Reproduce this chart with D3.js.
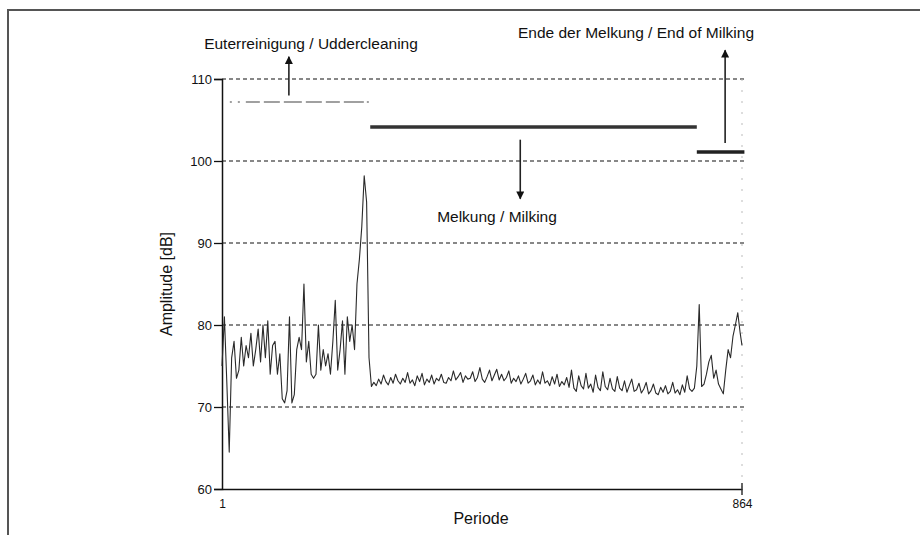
<!DOCTYPE html>
<html><head><meta charset="utf-8">
<script src="https://cdn.jsdelivr.net/npm/d3@7"></script>
<style>body{margin:0;background:#fff}svg{display:block}text{font-family:"Liberation Sans",Arial,sans-serif;fill:#111}</style>
</head><body>
<script>
// ---- data ----
const yTicks = [60, 70, 80, 90, 100, 110];
const xTickLabels = [1, 864];
const periodStep = 4; // one sample read every 4 periods
const amplitude = [
 75.0,81.0,73.0,64.5,76.0,78.0,73.5,74.5,78.5,75.0,
 77.5,76.0,79.0,75.0,77.0,79.5,75.5,80.0,76.0,80.5,
 74.0,77.5,78.0,74.0,76.5,71.0,70.5,72.0,81.0,70.5,
 71.5,77.0,78.5,77.0,85.0,75.5,78.0,74.0,73.5,74.0,
 80.0,74.5,77.0,75.0,76.5,74.0,78.0,83.0,74.5,77.0,
 80.5,74.0,81.0,78.0,80.0,77.0,85.0,88.0,92.0,98.2,
 95.0,76.0,72.5,73.0,72.6,73.4,72.8,73.9,73.1,72.7,
 73.6,72.9,74.0,73.2,72.8,73.5,73.0,74.2,72.9,73.3,
 72.6,73.8,73.1,74.1,72.7,73.4,73.0,73.9,72.8,73.5,
 73.2,74.0,73.0,72.9,73.6,73.2,74.4,73.3,73.7,74.2,
 73.0,73.8,73.4,73.5,74.3,73.1,73.6,74.8,73.4,73.0,
 73.7,74.5,73.2,73.9,74.6,73.3,74.0,73.2,73.6,74.4,
 72.9,73.5,73.1,73.8,72.8,73.4,74.1,72.9,73.2,73.9,
 72.7,73.3,72.8,74.3,72.9,73.2,72.6,73.7,72.8,74.0,
 72.5,73.1,72.7,73.6,72.4,74.5,72.3,71.9,73.8,72.6,
 72.2,74.1,72.3,72.8,71.8,73.9,72.4,72.0,74.3,72.5,
 72.1,73.5,72.2,71.9,73.7,72.3,72.0,73.2,71.8,72.6,
 73.4,71.9,72.1,72.9,71.7,72.2,73.0,71.6,72.0,72.8,
 71.7,71.5,72.4,71.8,72.6,71.6,71.9,73.0,71.7,72.1,
 71.5,72.7,71.8,73.8,72.2,71.9,72.3,75.0,82.5,72.5,
 72.8,74.0,75.5,76.3,73.5,74.5,72.8,72.2,71.6,74.5,
 77.0,76.0,78.6,80.0,81.5,79.0,77.5
];
// process phases: [label, start period, end period, level dB]
const phaseNames = ["Euterreinigung / Uddercleaning", "Melkung / Milking", "Ende der Melkung / End of Milking"];
const phaseStart = [14, 247, 789];
const phaseEnd = [245, 789, 868];
const phaseLevel = [107.2, 104.15, 101.1];
// annotation arrows: x period, from dB, to dB
const arrowX = [112, 496, 836];
const arrowFrom = [108.0, 102.6, 102.2];
const arrowTo = [112.7, 95.4, 113.5];

// ---- drawing ----
const W = 920, H = 535;
const svg = d3.select("body").append("svg").attr("width", W).attr("height", H);
const x = d3.scaleLinear().domain([1, 864]).range([222, 742]);
const y = d3.scaleLinear().domain([60, 110]).range([489, 79]);
const FONT = "Liberation Sans, Arial, sans-serif";

// frame
svg.append("path").attr("d", `M8,${H} L8,10 L${W},10`).attr("fill", "none").attr("stroke", "#555").attr("stroke-width", 2);

// gridlines
svg.append("g").selectAll("line").data(yTicks.filter(d => d > 60)).join("line")
  .attr("x1", x(1)).attr("x2", x(864) + 3).attr("y1", d => y(d)).attr("y2", d => y(d))
  .attr("stroke", "#111").attr("stroke-width", 1.2).attr("stroke-dasharray", "4,3");

// right faint dotted line
svg.append("line").attr("x1", x(864)).attr("x2", x(864)).attr("y1", y(110)).attr("y2", y(60))
  .attr("stroke", "#bbb").attr("stroke-width", 1).attr("stroke-dasharray", "2,9");

// y axis
const yAxis = d3.axisLeft(y).tickValues(yTicks).tickSize(8).tickPadding(2).tickFormat(d3.format("d"));
const gy = svg.append("g").attr("transform", `translate(${x(1)},0)`).call(yAxis);
gy.select(".domain").attr("stroke", "#111").attr("stroke-width", 1.5);
gy.selectAll(".tick line").attr("stroke", "#111").attr("stroke-width", 1.3);
gy.selectAll(".tick text").attr("font-size", 13).attr("font-family", FONT).attr("fill", "#111");

// x axis
const xAxis = d3.axisBottom(x).tickValues(xTickLabels).tickSize(0).tickPadding(10).tickFormat(d3.format("d"));
const gx = svg.append("g").attr("transform", `translate(0,${y(60)})`).call(xAxis);
gx.select(".domain").attr("stroke", "#111").attr("stroke-width", 1.5);
gx.selectAll(".tick text").attr("font-size", 12).attr("font-family", FONT).attr("fill", "#111");
svg.append("line").attr("x1", x(864)).attr("x2", x(864)).attr("y1", y(60) - 6).attr("y2", y(60) + 6)
  .attr("stroke", "#333").attr("stroke-width", 1.5);

// axis titles
svg.append("text").attr("x", 481).attr("y", 524).attr("text-anchor", "middle").attr("font-size", 16).text("Periode");
svg.append("text").attr("transform", `translate(172,${y(85)}) rotate(-90)`).attr("text-anchor", "middle").attr("font-size", 16).text("Amplitude [dB]");

// signal
const line = d3.line().x((d, i) => x(Math.min(1 + i * periodStep, 864))).y(d => y(d));
svg.append("path").datum(amplitude).attr("d", line).attr("fill", "none").attr("stroke", "#2a2a2a").attr("stroke-width", 1.1).attr("stroke-linejoin", "round");

// phase bars
const phaseStyle = [
  {stroke: "#a0a0a0", width: 2, dash: "2,6,2,6,14,4,16,4,18,4,16,4,14,4,20,3"},
  {stroke: "#333", width: 3.5, dash: null},
  {stroke: "#222", width: 3.5, dash: null}
];
phaseStart.forEach((s, i) => {
  svg.append("line").attr("x1", x(s)).attr("x2", x(phaseEnd[i])).attr("y1", y(phaseLevel[i])).attr("y2", y(phaseLevel[i]))
    .attr("stroke", phaseStyle[i].stroke).attr("stroke-width", phaseStyle[i].width)
    .attr("stroke-dasharray", phaseStyle[i].dash);
});

// arrows
svg.append("defs").append("marker").attr("id", "ah").attr("viewBox", "0 0 10 10").attr("refX", 9).attr("refY", 5)
  .attr("markerWidth", 10).attr("markerHeight", 8).attr("markerUnits", "userSpaceOnUse").attr("orient", "auto")
  .append("path").attr("d", "M0,0 L10,5 L0,10 Z").attr("fill", "#111");
arrowX.forEach((ax, i) => {
  svg.append("line").attr("x1", x(ax)).attr("x2", x(ax)).attr("y1", y(arrowFrom[i])).attr("y2", y(arrowTo[i]))
    .attr("stroke", "#222").attr("stroke-width", 1.6).attr("marker-end", "url(#ah)");
});

// phase labels
const labelPos = [[311, 49, "middle"], [497, 222, "middle"], [636, 38, "middle"]];
phaseNames.forEach((n, i) => {
  svg.append("text").attr("x", labelPos[i][0]).attr("y", labelPos[i][1]).attr("text-anchor", labelPos[i][2])
    .attr("font-size", 15.5).text(n);
});
</script>
</body></html>
